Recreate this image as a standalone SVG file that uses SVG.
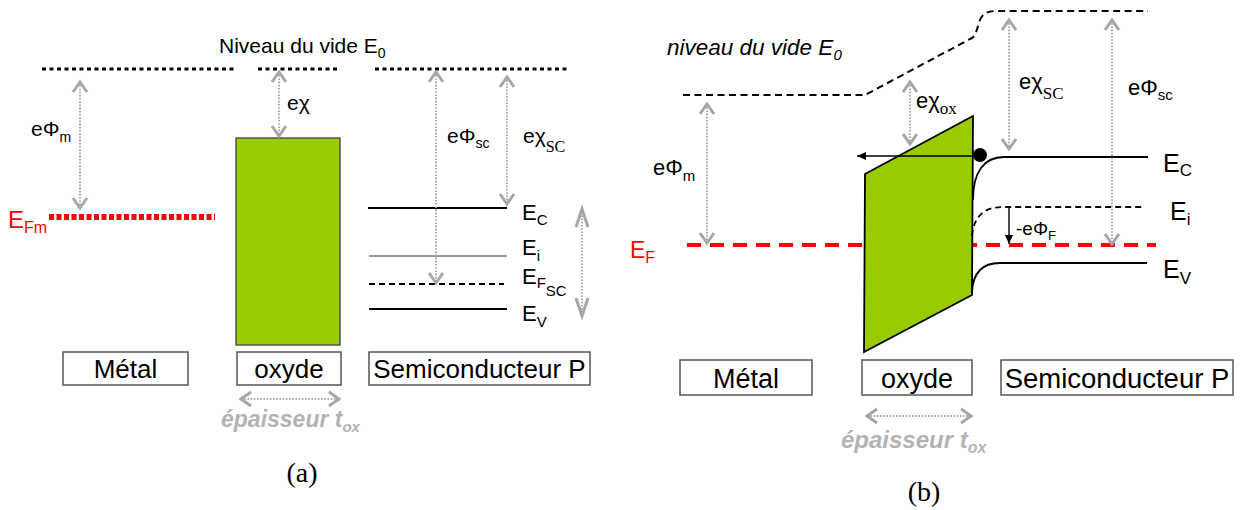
<svg xmlns="http://www.w3.org/2000/svg" width="1243" height="510" viewBox="0 0 1243 510">
<defs>
<style>
text{font-family:"Liberation Sans",Arial,sans-serif;fill:#000}
.serif{font-family:"Liberation Serif","Times New Roman",serif}
.red{fill:#ff0000}
.box{fill:#fff;stroke:#555;stroke-width:1.5}
.blab{text-anchor:middle}
.vac{fill:none;stroke:#000;stroke-width:3;stroke-dasharray:4 3.5}
.vacb{fill:none;stroke:#000;stroke-width:2;stroke-dasharray:7 4.5}
.gar{fill:none;stroke:#aaa;stroke-width:2;stroke-dasharray:1.6 1.6;marker-start:url(#chev);marker-end:url(#chev)}
.garT{fill:none;stroke:#aaa;stroke-width:2;stroke-dasharray:1.6 1.6;marker-start:url(#chevT);marker-end:url(#chevT)}
.lvl{fill:none;stroke:#000;stroke-width:1.8}
.thick{font-weight:bold;font-style:italic;fill:#b3b3b3}
.blk{stroke:#000;stroke-width:1.4;fill:none;marker-end:url(#tri)}
.ox{fill:#99cc00}
</style>
<marker id="chev" markerUnits="userSpaceOnUse" viewBox="-14 -10 18 20" refX="0" refY="0" markerWidth="18" markerHeight="20" orient="auto-start-reverse"><path d="M-10,-7 L0,0 L-10,7" fill="none" stroke="#a6a6a6" stroke-width="3"/></marker>
<marker id="chevT" markerUnits="userSpaceOnUse" viewBox="-22 -10 26 20" refX="0" refY="0" markerWidth="26" markerHeight="20" orient="auto-start-reverse"><path d="M-18,-6 L0,0 L-18,6" fill="none" stroke="#a6a6a6" stroke-width="3"/></marker>
<marker id="tri" markerUnits="userSpaceOnUse" viewBox="-10 -5 12 10" refX="0" refY="0" markerWidth="12" markerHeight="10" orient="auto"><path d="M-9,-4 L0,0 L-9,4 Z" fill="#000"/></marker>
</defs>
<rect width="1243" height="510" fill="#fff"/>

<!-- ===== Panel (a) ===== -->
<g id="a-vacuum">
<line class="vac" x1="42" y1="69" x2="236" y2="69"/>
<line class="vac" x1="258" y1="69" x2="340" y2="69"/>
<line class="vac" x1="375" y1="69" x2="568" y2="69"/>
<text x="219" y="53" font-size="21">Niveau du vide E<tspan font-size="14" dy="5">0</tspan></text>
</g>
<g id="a-metal">
<line x1="49" y1="217" x2="215" y2="217" stroke="#ff0000" stroke-width="6" stroke-dasharray="5 2.5"/>
<text class="red" x="8" y="228" font-size="24">E<tspan font-size="16" dy="5">Fm</tspan></text>
<rect class="box" x="63" y="352" width="125" height="33"/>
<text class="blab" x="125.5" y="378" font-size="26">Métal</text>
</g>
<g id="a-oxide">
<rect class="ox" x="236" y="138" width="104" height="207" stroke="#555" stroke-width="1.5"/>
<rect class="box" x="237" y="352" width="104" height="33"/>
<text class="blab" x="289" y="378" font-size="26">oxyde</text>
<text class="thick" x="221" y="427" font-size="23">épaisseur t<tspan font-size="15" dy="5">ox</tspan></text>
</g>
<g id="a-semiconductor">
<line class="lvl" x1="368" y1="208" x2="507" y2="208"/>
<line x1="369" y1="256" x2="507" y2="256" stroke="#777" stroke-width="1.5"/>
<line x1="369" y1="284" x2="504" y2="284" stroke="#000" stroke-width="2" stroke-dasharray="6 4"/>
<line class="lvl" x1="369" y1="309" x2="507" y2="309"/>
<text x="522" y="220" font-size="22">E<tspan font-size="15" dy="5">C</tspan></text>
<text x="522" y="255" font-size="22">E<tspan font-size="15" dy="6">i</tspan></text>
<text x="522" y="284" font-size="22">E<tspan font-size="15" dy="4">F</tspan><tspan font-size="15" dy="8">SC</tspan></text>
<text x="522" y="321" font-size="22">E<tspan font-size="15" dy="6">V</tspan></text>
<rect class="box" x="369" y="352" width="221" height="33"/>
<text class="blab" x="479.5" y="378" font-size="26">Semiconducteur P</text>
</g>
<g id="a-labels">
<text x="31" y="136" font-size="21">eΦ<tspan font-size="14" dy="6">m</tspan></text>
<text x="287" y="110" font-size="21">eχ</text>
<text x="447" y="143" font-size="21">eΦ<tspan font-size="14" dy="5">sc</tspan></text>
<text x="523" y="143" font-size="21">eχ<tspan class="serif" font-size="16" dy="9">SC</tspan></text>
<text class="serif" x="302" y="482" font-size="28" text-anchor="middle">(a)</text>
</g>

<!-- ===== Panel (b) ===== -->
<g id="b-vacuum">
<path class="vacb" d="M683,95 L865,95 L972,38 C976,36 977,28 980,20 C983,13 988,11 997,11 L1148,11"/>
<text x="667" y="55" font-size="22.5" font-style="italic">niveau du vide E<tspan font-size="15" dy="5">0</tspan></text>
</g>
<g id="b-metal">
<line x1="687" y1="245" x2="1156" y2="245" stroke="#ff0000" stroke-width="4" stroke-dasharray="14 9"/>
<text class="red" x="630" y="258" font-size="23">E<tspan font-size="16" dy="5">F</tspan></text>
<rect class="box" x="680" y="360" width="132" height="35"/>
<text class="blab" x="746" y="388" font-size="27">Métal</text>
</g>
<g id="b-oxide">
<polygon class="ox" points="865,174 973,116 972,295 864,352" stroke="#000" stroke-width="1.8" stroke-linejoin="miter"/>
<rect class="box" x="862" y="360" width="110" height="35"/>
<text class="blab" x="917" y="388" font-size="27">oxyde</text>
<text class="thick" x="841" y="448" font-size="24">épaisseur t<tspan font-size="16" dy="5">ox</tspan></text>
</g>
<g id="b-semiconductor">
<path class="lvl" d="M973,200 C973,172 984,157 1004,157 L1148,157"/>
<path d="M972,236 C974,216 984,207 1003,207 L1144,207" fill="none" stroke="#000" stroke-width="1.8" stroke-dasharray="6 4"/>
<path class="lvl" d="M972,292 C973,273 982,263 1000,263 L1147,263"/>
<circle cx="980" cy="155" r="7" fill="#000"/>
<text x="1163" y="172" font-size="25">E<tspan font-size="17" dy="4">C</tspan></text>
<text x="1170" y="220" font-size="25">E<tspan font-size="17" dy="5">i</tspan></text>
<text x="1163" y="278" font-size="25">E<tspan font-size="17" dy="6">V</tspan></text>
<rect class="box" x="1001" y="360" width="232" height="35"/>
<text class="blab" x="1117" y="388" font-size="27.5">Semiconducteur P</text>
</g>
<g id="b-labels">
<text x="653" y="175" font-size="22">eΦ<tspan font-size="15" dy="6">m</tspan></text>
<text x="916" y="108" font-size="22">eχ<tspan class="serif" font-size="17" dy="6">ox</tspan></text>
<text x="1019" y="89" font-size="22">eχ<tspan class="serif" font-size="17" dy="10">SC</tspan></text>
<text x="1128" y="95" font-size="22">eΦ<tspan font-size="15" dy="5">sc</tspan></text>
<text x="1016" y="235" font-size="19">-eΦ<tspan font-size="13" dy="5">F</tspan></text>
<text class="serif" x="924" y="501" font-size="28" text-anchor="middle">(b)</text>
</g>

<!-- ===== Connectors ===== -->
<g id="connectors">
<line class="gar" x1="80" y1="82" x2="80" y2="208"/>
<line class="gar" x1="279" y1="72" x2="279" y2="136"/>
<line class="gar" x1="436" y1="72" x2="436" y2="283"/>
<line class="gar" x1="507" y1="77" x2="507" y2="204"/>
<line class="garT" x1="582" y1="209" x2="582" y2="316"/>
<line class="gar" x1="241" y1="399" x2="339" y2="399"/>
<line class="gar" x1="707" y1="104" x2="707" y2="243"/>
<line class="gar" x1="910" y1="82" x2="910" y2="144"/>
<line class="gar" x1="1009" y1="20" x2="1009" y2="149"/>
<line class="gar" x1="1112" y1="20" x2="1112" y2="244"/>
<line class="gar" x1="867" y1="416" x2="971" y2="416"/>
<line class="blk" x1="978" y1="156" x2="857" y2="156"/>
<line class="blk" x1="1009" y1="207" x2="1009" y2="244"/>
</g>
</svg>
